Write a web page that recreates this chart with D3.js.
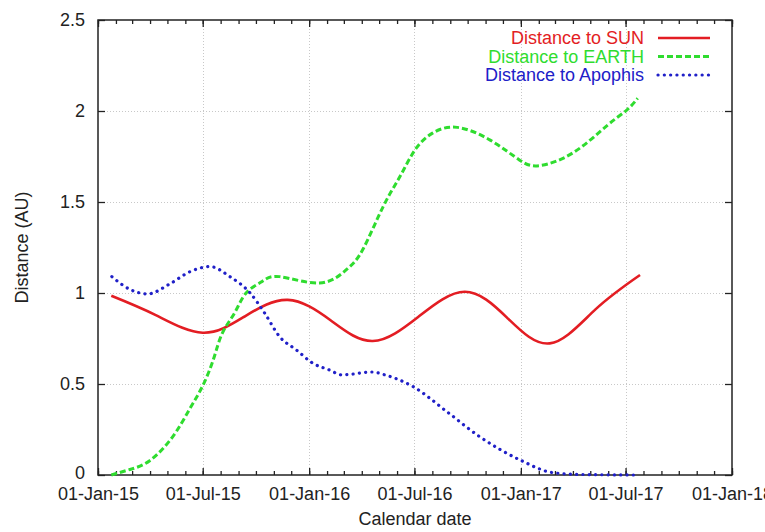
<!DOCTYPE html>
<html>
<head>
<meta charset="utf-8">
<script src="https://cdn.jsdelivr.net/npm/d3@7"></script>
<style>
  html, body { margin: 0; padding: 0; background: #fff; }
  svg { display: block; font-family: "Liberation Sans", Arial, sans-serif; }
</style>
</head>
<body>
<svg id="chart" width="765" height="532"></svg>
<script>
// ---------------- data ----------------
const sunDates = ["2015-01-24","2015-04-10","2015-07-01","2015-09-12","2015-11-25","2016-02-07","2016-04-20","2016-07-08","2016-09-26","2016-12-08","2017-02-20","2017-05-10","2017-07-26"];
const sunValues = [0.985,0.88,0.782,0.872,0.962,0.85,0.736,0.87,1.007,0.865,0.723,0.91,1.099];

const earthDates = ["2015-01-24","2015-02-25","2015-04-01","2015-05-10","2015-06-08","2015-07-01","2015-07-20","2015-08-04","2015-08-25","2015-09-14","2015-10-10","2015-11-11","2016-01-19","2016-03-06","2016-04-03","2016-05-08","2016-06-06","2016-07-02","2016-08-02","2016-09-13","2016-11-09","2016-12-30","2017-02-03","2017-04-01","2017-05-30","2017-07-03","2017-07-22"];
const earthValues = [0.0,0.03,0.08,0.21,0.36,0.49,0.64,0.78,0.89,1.0,1.06,1.09,1.055,1.13,1.24,1.475,1.64,1.786,1.88,1.91,1.84,1.73,1.70,1.77,1.92,2.005,2.07];

const apophisDates = ["2015-01-25","2015-02-25","2015-03-28","2015-05-05","2015-06-09","2015-07-14","2015-08-17","2015-09-21","2015-10-16","2015-11-11","2015-12-10","2016-01-07","2016-02-05","2016-02-27","2016-04-19","2016-05-11","2016-06-29","2016-08-26","2016-10-22","2016-12-31","2017-02-25","2017-04-13","2017-07-20"];
const apophisValues = [1.09,1.02,0.995,1.05,1.117,1.145,1.09,1.0,0.89,0.76,0.687,0.615,0.577,0.55,0.566,0.55,0.485,0.348,0.21,0.082,0.013,0.003,0.0];

const yTicks = [0, 0.5, 1, 1.5, 2, 2.5];
const seriesNames = ["Distance to SUN", "Distance to EARTH", "Distance to Apophis"];
const seriesColors = ["#e31d23", "#2fdc2f", "#2020c8"];

// ---------------- layout ----------------
const W = 765, H = 532;
const m = {left: 98, top: 20, right: 33, bottom: 57};
const pw = W - m.left - m.right, ph = H - m.top - m.bottom;
const parse = d3.timeParse("%Y-%m-%d");

const svg = d3.select("#chart");
const g = svg.append("g").attr("transform", `translate(${m.left},${m.top})`);

const x = d3.scaleTime().domain([new Date(2015,0,1), new Date(2018,0,1)]).range([0, pw]);
const y = d3.scaleLinear().domain([0, 2.5]).range([ph, 0]);

const majorX = d3.timeMonth.every(6).range(new Date(2015,0,1), new Date(2018,0,2));
const minorX = d3.timeMonth.range(new Date(2015,0,1), new Date(2018,0,2));

// grid
const grid = g.append("g").attr("stroke", "#c8c8c8").attr("stroke-width", 1).attr("stroke-dasharray", "1,2");
grid.selectAll(".gx").data(majorX.slice(1, -1)).join("line")
  .attr("x1", d => Math.round(x(d)) + 0.5).attr("x2", d => Math.round(x(d)) + 0.5)
  .attr("y1", 0).attr("y2", ph);
grid.selectAll(".gy").data(yTicks.slice(1, -1)).join("line")
  .attr("y1", d => Math.round(y(d)) + 0.5).attr("y2", d => Math.round(y(d)) + 0.5)
  .attr("x1", 0).attr("x2", pw);

// axes
const fmt = d3.timeFormat("%d-%b-%y");
const axB = g.append("g").attr("transform", `translate(0,${ph})`)
  .call(d3.axisBottom(x).tickValues(majorX).tickFormat(fmt).tickSizeInner(-7).tickSizeOuter(0).tickPadding(12));
const axT = g.append("g")
  .call(d3.axisTop(x).tickValues(majorX).tickFormat("").tickSizeInner(-7).tickSizeOuter(0));
const axBm = g.append("g").attr("transform", `translate(0,${ph})`)
  .call(d3.axisBottom(x).tickValues(minorX).tickFormat("").tickSizeInner(-4).tickSizeOuter(0));
const axTm = g.append("g")
  .call(d3.axisTop(x).tickValues(minorX).tickFormat("").tickSizeInner(-4).tickSizeOuter(0));
const axL = g.append("g")
  .call(d3.axisLeft(y).tickValues(yTicks).tickFormat(d3.format("")).tickSizeInner(-7).tickSizeOuter(0).tickPadding(13));
const axR = g.append("g").attr("transform", `translate(${pw},0)`)
  .call(d3.axisRight(y).tickValues(yTicks).tickFormat("").tickSizeInner(-7).tickSizeOuter(0));

[axB, axT, axBm, axTm, axL, axR].forEach(a => {
  a.select(".domain").remove();
  a.selectAll(".tick line").attr("stroke", "#222").attr("stroke-width", 1.3);
  a.selectAll("text").attr("font-size", 18).attr("fill", "#222")
    .attr("font-family", "'Liberation Sans', Arial, sans-serif");
});
// lift the "0" label slightly so it doesn't collide with the first date label
axL.selectAll(".tick text").filter(d => d === 0).attr("dy", "0.22em");

// frame
g.append("rect").attr("x", 0).attr("y", 0).attr("width", pw).attr("height", ph)
  .attr("fill", "none").attr("stroke", "#222").attr("stroke-width", 1.5);

// series
const mk = (ds, vs) => ds.map((d, i) => [parse(d), vs[i]]);
const series = [mk(sunDates, sunValues), mk(earthDates, earthValues), mk(apophisDates, apophisValues)];
const curves = [d3.curveNatural, d3.curveNatural, d3.curveMonotoneX];
const styles = [
  {w: 2.6, dash: null, cap: "butt"},
  {w: 3, dash: "6,3", cap: "butt"},
  {w: 3.2, dash: "0.1,6.2", cap: "round"}
];
series.forEach((s, i) => {
  const line = d3.line().x(d => x(d[0])).y(d => y(d[1])).curve(curves[i]);
  g.append("path").datum(s).attr("d", line).attr("fill", "none")
    .attr("stroke", seriesColors[i]).attr("stroke-width", styles[i].w)
    .attr("stroke-dasharray", styles[i].dash).attr("stroke-linecap", styles[i].cap);
});

// legend
const lg = svg.append("g");
seriesNames.forEach((name, i) => {
  const by = 44 + i * 18.5;
  lg.append("text").attr("x", 644).attr("y", by).attr("text-anchor", "end")
    .attr("font-size", 18).attr("fill", seriesColors[i]).text(name);
  lg.append("line").attr("x1", 658).attr("x2", 710).attr("y1", by - 6).attr("y2", by - 6)
    .attr("stroke", seriesColors[i]).attr("stroke-width", styles[i].w)
    .attr("stroke-dasharray", styles[i].dash).attr("stroke-linecap", styles[i].cap);
});

// axis titles
svg.append("text").attr("x", m.left + pw / 2).attr("y", 525).attr("text-anchor", "middle")
  .attr("font-size", 18).attr("fill", "#222").text("Calendar date");
svg.append("text").attr("transform", `translate(28,${m.top + ph / 2}) rotate(-90)`)
  .attr("text-anchor", "middle").attr("font-size", 18).attr("fill", "#222").text("Distance (AU)");
</script>
</body>
</html>
